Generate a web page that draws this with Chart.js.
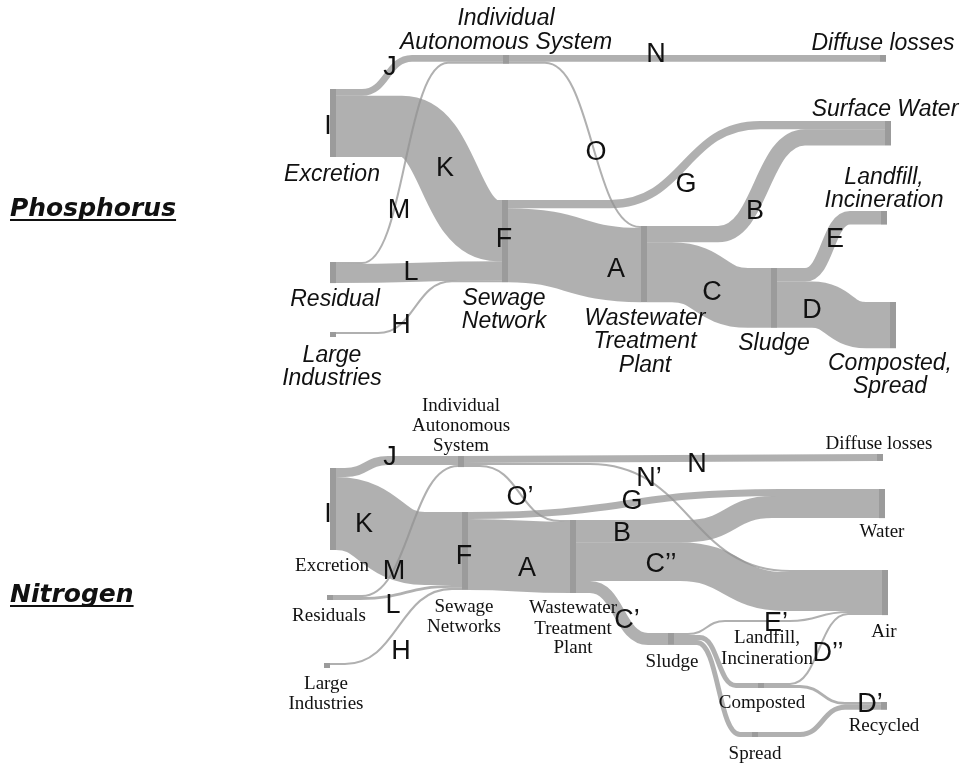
<!DOCTYPE html>
<html>
<head>
<meta charset="utf-8">
<title>Phosphorus and nitrogen flows</title>
<script src="https://cdn.jsdelivr.net/npm/chart.js@4.4.1/dist/chart.umd.min.js"></script>
<style>
  html, body { margin: 0; padding: 0; background: #fff; }
</style>
</head>
<body>
<canvas id="flows" width="964" height="764"></canvas>
<script>
// Phosphorus: nodes and flows (relative units, excretion = 100)
const pNodeIds     = ['EXC', 'RES', 'IND', 'IAS', 'SEW', 'WWTP', 'SLU', 'DIF', 'SW', 'LAND', 'COMP'];
const pNodeNames   = ['Excretion', 'Residual', 'Large\nIndustries', 'Individual\nAutonomous System', 'Sewage\nNetwork',
                      'Wastewater\nTreatment\nPlant', 'Sludge', 'Diffuse losses', 'Surface Water', 'Landfill,\nIncineration', 'Composted,\nSpread'];
const pNodeLetters = ['I', '', '', '', 'F', '', '', '', '', '', ''];
const pFlowLetters = ['J', 'K', 'M', 'L', 'H', 'N', 'O', 'G', 'A', 'B', 'C', 'E', 'D'];
const pFlowFrom    = ['EXC', 'EXC', 'RES', 'RES', 'IND', 'IAS', 'IAS', 'SEW', 'SEW', 'WWTP', 'WWTP', 'SLU', 'SLU'];
const pFlowTo      = ['IAS', 'SEW', 'IAS', 'SEW', 'SEW', 'DIF', 'WWTP', 'SW', 'WWTP', 'SW', 'SLU', 'LAND', 'COMP'];
const pFlowValues  = [10, 90, 3, 28, 3, 10, 3, 12, 109, 24, 88, 20, 68];

// Nitrogen: nodes and flows (relative units)
const nNodeIds     = ['EXC', 'RES', 'IND', 'IAS', 'SEW', 'WWTP', 'SLU', 'COMP', 'SPR', 'DIF', 'WAT', 'AIR', 'REC', 'LAND'];
const nNodeNames   = ['Excretion', 'Residuals', 'Large\nIndustries', 'Individual\nAutonomous\nSystem', 'Sewage\nNetworks',
                      'Wastewater\nTreatment\nPlant', 'Sludge', 'Composted', 'Spread', 'Diffuse losses', 'Water', 'Air', 'Recycled', 'Landfill,\nIncineration'];
const nNodeLetters = ['I', '', '', '', 'F', '', '', '', '', '', '', '', '', ''];
const nFlowLetters = ['J', 'K', 'M', 'L', 'H', 'N', 'N’', 'O’', 'G', 'A', 'B', 'C’’', 'C’', 'E’', '', '', 'D’’', 'D’', ''];
const nFlowFrom    = ['EXC', 'EXC', 'RES', 'RES', 'IND', 'IAS', 'IAS', 'IAS', 'SEW', 'SEW', 'WWTP', 'WWTP', 'WWTP', 'SLU', 'SLU', 'SLU', 'COMP', 'COMP', 'SPR'];
const nFlowTo      = ['IAS', 'SEW', 'IAS', 'SEW', 'SEW', 'DIF', 'AIR', 'WWTP', 'WAT', 'WWTP', 'WAT', 'AIR', 'SLU', 'AIR', 'COMP', 'SPR', 'AIR', 'REC', 'REC'];
const nFlowValues  = [22, 178, 5, 7, 5, 17, 5, 5, 17, 173, 54, 95, 29, 5, 12, 12, 5, 7, 12];

// Layout (axis units = canvas px)
const NODE_W = 6;
const NODE_MIN_H = 5;
const FLOW_COLOR = 'rgba(145, 145, 145, 0.72)';
const NODE_COLOR = '#9b9b9b';
const TEXT_COLOR = '#111';
const LETTER_FONT = '27px "Liberation Sans", Arial, sans-serif';
const LETTER_CAP = 19.3;

const phosphorus = {
    ids: pNodeIds, names: pNodeNames, nodeLetters: pNodeLetters,
    letters: pFlowLetters, from: pFlowFrom, to: pFlowTo, values: pFlowValues,
    unit: 0.68,
    pos: { EXC: [330, 89], RES: [330, 262], IND: [330, 332], IAS: [503, 55], SEW: [502, 200], WWTP: [641, 226],
           SLU: [771, 268], DIF: [880, 55], SW: [885, 121], LAND: [881, 211], COMP: [890, 302] },
    bends: [[[362, 412]], [[402, 497]], [[362, 448]], null, [[378, 452]], null, [[545, 640]],
            [[610, 760]], null, [[718, 805]], [[672, 748]], [[805, 850]], [[812, 866]]],
    via: [],
    labelFont: 'italic 23px "Liberation Sans", Arial, sans-serif', capH: 16.5,
    labelPos: [[332, [173]], [335, [298]], [332, [354, 377]], [506, [17, 41]], [504, [297, 320]],
               [645, [317, 340, 364]], [774, [342]], [883, [42]], [885, [108]], [884, [176, 199]], [890, [362, 385]]],
    letterPos: [[390, 65], [445, 166], [399, 208], [411, 270], [401, 323], [656, 52], [596, 150],
                [686, 182], [616, 267], [755, 209], [712, 290], [835, 237], [812, 308]],
    nodeLetterPos: [[328, 124], null, null, null, [504, 237], null, null, null, null, null, null]
};

const nitrogen = {
    ids: nNodeIds, names: nNodeNames, nodeLetters: nNodeLetters,
    letters: nFlowLetters, from: nFlowFrom, to: nFlowTo, values: nFlowValues,
    unit: 0.41,
    pos: { EXC: [330, 468], RES: [327, 595], IND: [324, 663], IAS: [458, 456], SEW: [462, 512], WWTP: [570, 520],
           SLU: [668, 633], COMP: [758, 683], SPR: [752, 732], DIF: [877, 454], WAT: [879, 489], AIR: [882, 570],
           REC: [881, 702], LAND: [767, 640] },
    bends: [[[345, 388]], [[336, 425]], [[362, 458]], [[360, 452]], [[345, 452]], null, [[590, 790]], [[480, 560]],
            [[470, 780]], null, [[688, 772]], [[680, 785]], [[590, 648]], [[688, 725], [790, 848]],
            [[700, 736]], [[697, 740]], [[790, 848]], [[800, 845]], [[800, 845]]],
    via: { 13: [621] },
    labelFont: '19px "Liberation Serif", "Times New Roman", serif', capH: 12.6,
    labelPos: [[332, [565]], [329, [615]], [326, [683, 703]], [461, [405, 425, 445]], [464, [606, 626]],
               [573, [607, 628, 647]], [672, [661]], [762, [702]], [755, [753]], [879, [443]], [882, [531]],
               [884, [631]], [884, [725]], [767, [637, 658]]],
    letterPos: [[390, 455], [364, 522], [394, 569], [393, 603], [401, 649], [697, 462], [649, 476], [520, 495],
                [632, 499], [527, 566], [622, 531], [661, 562], [627, 618], [776, 621], null, null,
                [828, 651], [870, 702], null],
    nodeLetterPos: [[328, 512], null, null, null, [464, 554], null, null, null, null, null, null, null, null, null]
};

const titles = [
    { text: 'Phosphorus', x: 10, y: 216 },
    { text: 'Nitrogen', x: 10, y: 602 }
];

// Draw one sankey diagram through the chart scales
function drawDiagram(ctx, xs, ys, d) {
    const X = v => xs.getPixelForValue(v);
    const Y = v => ys.getPixelForValue(v);

    // node heights from flow totals
    const heights = {}, usedIn = {}, usedOut = {};
    d.ids.forEach(id => {
        let sIn = 0, sOut = 0;
        d.values.forEach((v, i) => {
            if (d.from[i] === id) sOut += v;
            if (d.to[i] === id) sIn += v;
        });
        heights[id] = Math.max(sIn, sOut) * d.unit;
        usedIn[id] = 0;
        usedOut[id] = 0;
    });

    // flows
    ctx.save();
    ctx.strokeStyle = FLOW_COLOR;
    ctx.lineCap = 'butt';
    ctx.lineJoin = 'round';
    d.values.forEach((v, i) => {
        const w = v * d.unit;
        const a = d.pos[d.from[i]], b = d.pos[d.to[i]];
        const sx = a[0] + NODE_W, sy = a[1] + usedOut[d.from[i]] + w / 2;
        const tx = b[0], ty = b[1] + usedIn[d.to[i]] + w / 2;
        usedOut[d.from[i]] += w;
        usedIn[d.to[i]] += w;
        const bends = d.bends[i] || [[sx, tx]];
        const via = d.via[i] || [];
        ctx.beginPath();
        ctx.moveTo(X(sx), Y(sy));
        let cy = sy;
        bends.forEach((bd, k) => {
            const ny = k < via.length ? via[k] : ty;
            const mid = (bd[0] + bd[1]) / 2;
            ctx.lineTo(X(bd[0]), Y(cy));
            ctx.bezierCurveTo(X(mid), Y(cy), X(mid), Y(ny), X(bd[1]), Y(ny));
            cy = ny;
        });
        ctx.lineTo(X(tx), Y(ty));
        ctx.lineWidth = Math.abs(Y(w) - Y(0));
        ctx.stroke();
    });
    ctx.restore();

    // nodes
    ctx.save();
    ctx.fillStyle = NODE_COLOR;
    d.ids.forEach(id => {
        if (!heights[id]) return;
        const p = d.pos[id];
        const h = Math.max(NODE_MIN_H, Math.abs(Y(p[1] + heights[id]) - Y(p[1])));
        ctx.fillRect(X(p[0]), Y(p[1]), X(p[0] + NODE_W) - X(p[0]), h);
    });
    ctx.restore();

    // node names
    ctx.save();
    ctx.fillStyle = TEXT_COLOR;
    ctx.textAlign = 'center';
    ctx.textBaseline = 'alphabetic';
    ctx.font = d.labelFont;
    d.names.forEach((name, i) => {
        const lp = d.labelPos[i];
        if (!lp) return;
        name.split('\n').forEach((line, k) => {
            ctx.fillText(line, X(lp[0]), Y(lp[1][k]) + d.capH / 2);
        });
    });

    // flow and node letters
    ctx.font = LETTER_FONT;
    d.letters.forEach((t, i) => {
        const lp = d.letterPos[i];
        if (!t || !lp) return;
        ctx.fillText(t, X(lp[0]), Y(lp[1]) + LETTER_CAP / 2);
    });
    d.nodeLetters.forEach((t, i) => {
        const lp = d.nodeLetterPos[i];
        if (!t || !lp) return;
        ctx.fillText(t, X(lp[0]), Y(lp[1]) + LETTER_CAP / 2);
    });
    ctx.restore();
}

const sankeyPlugin = {
    id: 'sankeyFlows',
    afterDatasetsDraw(chart) {
        const ctx = chart.ctx;
        const xs = chart.scales.x, ys = chart.scales.y;
        drawDiagram(ctx, xs, ys, phosphorus);
        drawDiagram(ctx, xs, ys, nitrogen);

        // section titles, underlined
        ctx.save();
        ctx.fillStyle = TEXT_COLOR;
        ctx.font = 'italic bold 25px "DejaVu Sans"';
        ctx.textAlign = 'left';
        ctx.textBaseline = 'alphabetic';
        titles.forEach(t => {
            const x = xs.getPixelForValue(t.x), y = ys.getPixelForValue(t.y);
            ctx.fillText(t.text, x, y);
            const w = ctx.measureText(t.text).width;
            ctx.fillRect(x, y + 3, w, 2);
        });
        ctx.restore();
    }
};

new Chart(document.getElementById('flows'), {
    type: 'scatter',
    data: { datasets: [] },
    options: {
        responsive: false,
        animation: false,
        devicePixelRatio: 1,
        layout: { padding: 0 },
        plugins: {
            legend: { display: false },
            tooltip: { enabled: false }
        },
        scales: {
            x: { type: 'linear', min: 0, max: 964, display: false },
            y: { type: 'linear', min: 0, max: 764, reverse: true, display: false }
        }
    },
    plugins: [sankeyPlugin]
});
</script>
</body>
</html>
